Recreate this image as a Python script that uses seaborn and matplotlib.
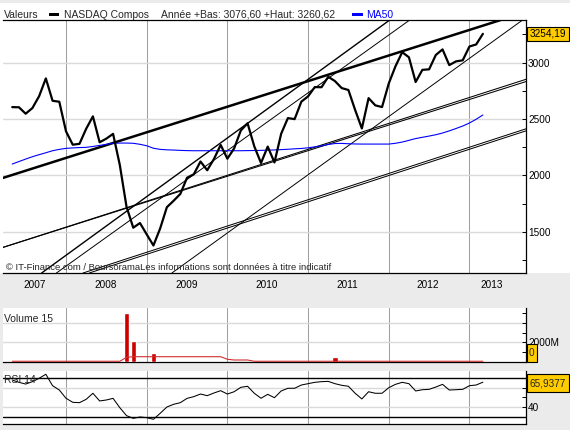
import numpy as np
import pandas as pd
import matplotlib
matplotlib.use("Agg")
import matplotlib.pyplot as plt
from matplotlib.patches import Rectangle
import seaborn as sns

# ---------------- data ----------------
START_MONTH = "2007-05"
END_MONTH = "2013-03"

nasdaq_2007 = [2604.52, 2603.23, 2546.27, 2596.36, 2701.50, 2859.12, 2660.96, 2652.28]
nasdaq_2008 = [2389.86, 2271.48, 2279.10, 2412.80, 2522.66, 2292.98, 2325.55, 2367.52,
               2091.88, 1720.95, 1535.57, 1577.03]
nasdaq_2009 = [1476.42, 1377.84, 1528.59, 1717.30, 1774.33, 1835.04, 1978.50, 2009.06,
               2122.42, 2045.11, 2144.60, 2269.15]
nasdaq_2010 = [2147.35, 2238.26, 2397.96, 2461.19, 2257.04, 2109.24, 2254.70, 2114.03,
               2368.62, 2507.41, 2498.23, 2652.87]
nasdaq_2011 = [2700.08, 2782.27, 2781.07, 2873.54, 2835.30, 2773.52, 2756.38, 2579.46,
               2415.40, 2684.41, 2620.34, 2605.15]
nasdaq_2012 = [2813.84, 2966.89, 3091.57, 3046.36, 2827.34, 2935.05, 2939.52, 3066.96,
               3116.23, 2977.23, 3010.24, 3019.51]
nasdaq_2013 = [3142.13, 3160.19, 3254.19]

ma50 = [2100, 2122, 2144, 2165, 2183, 2200, 2218, 2230,
        2239, 2243, 2246, 2248, 2256, 2265, 2275, 2284, 2286, 2286, 2284, 2275,
        2262, 2240, 2230, 2226, 2224, 2221, 2219, 2218, 2218, 2218, 2218, 2218,
        2218, 2218, 2218, 2219, 2220, 2221, 2223, 2225, 2228, 2231, 2235, 2238,
        2244, 2252, 2262, 2273, 2282, 2283, 2280, 2278, 2277, 2277, 2277, 2277,
        2277, 2284, 2295, 2310, 2326, 2337, 2348, 2360, 2375, 2394, 2415, 2437,
        2464, 2497, 2535]

volume_months = ["2008-10", "2008-11", "2009-02", "2011-05"]
volume_values = [4990, 2134, 897, 485]          # millions

volume_ma15 = [45] * 17 + [450] + [515] * 14 + [250, 175, 175, 175] + [45] * 35

rsi14 = [68.2, 65.8, 64.0, 66.5, 70.0, 74.2, 62.3, 57.8,
         49.2, 45.0, 44.6, 48.1, 54.4, 46.4, 47.4, 49.1, 39.4, 31.1, 28.3, 29.7,
         29.0, 27.3, 33.5, 40.1, 42.9, 44.6, 49.1, 50.9, 53.6, 51.9, 54.7, 57.1,
         53.6, 56.0, 60.6, 61.7, 54.4, 49.2, 53.3, 49.8, 56.8, 59.6, 59.6, 63.0,
         64.4, 65.8, 66.5, 66.8, 64.4, 62.7, 61.7, 54.4, 48.5, 56.0, 54.4, 54.4,
         60.2, 63.7, 65.8, 64.4, 56.8, 58.1, 58.5, 60.9, 63.7, 57.8, 58.1, 58.5,
         62.3, 63.0, 65.9377]

year_labels = ["2007", "2008", "2009", "2010", "2011", "2012", "2013"]
price_ticks = [1500, 2000, 2500, 3000]
price_minor = [1250, 1750, 2250, 2750, 3250]

# drawn trend lines: two points each (decimal year, index value)
trend_t1 = [2007.227, 2007.223, 2007.223, 2009.289, 2009.289, 2007.719, 2007.881, 2009.312]
trend_v1 = [1979, 1362, 1362, 1367, 1385, 1145, 1134, 1134]
trend_t2 = [2012.167, 2013.700, 2013.700, 2013.670, 2013.670, 2012.012, 2012.260, 2013.659]
trend_v2 = [3100, 2831, 2851, 2387, 2405, 3377, 3377, 3377]
trend_lw = [1.8, 0.75, 0.75, 0.72, 0.72, 1.0, 0.7, 0.7]

header_valeurs = "Valeurs"
header_series = "NASDAQ Compos"
header_year = "Année +Bas: 3076,60 +Haut: 3260,62"
header_ma = "MA50"
copyright_txt = "© IT-Finance.com / BoursoramaLes informations sont données à titre indicatif"

# ---------------- helpers ----------------
months = pd.period_range(START_MONTH, END_MONTH, freq="M")
t = np.asarray(months.year + (months.month - 1) / 12.0, dtype=float)
price = np.array(nasdaq_2007 + nasdaq_2008 + nasdaq_2009 + nasdaq_2010 +
                 nasdaq_2011 + nasdaq_2012 + nasdaq_2013)
vm = pd.PeriodIndex(volume_months, freq="M")
t_vol = np.asarray(vm.year + (vm.month - 1) / 12.0, dtype=float)

W, H = 570, 430
def fx(px):
    return px / W
def fy(py):
    return 1 - py / H

sns.set_theme(style="white")
plt.rcParams["font.family"] = ["Liberation Sans", "DejaVu Sans"]
plt.rcParams["axes.unicode_minus"] = False
FS = 7.2
FS_HEAD = 7.5
FS_COPY = 6.8
BG = "#EBEBEB"
VGRID = "#A0A0A0"
HGRID = "#DADADA"
GOLD = "#FFCC00"
XMIN, XMAX = 2007.219, 2013.701
years = [2008, 2009, 2010, 2011, 2012, 2013]

fig = plt.figure(figsize=(W / 100, H / 100), dpi=100, facecolor=BG)
fig.patches.append(Rectangle((0, fy(273)), 1, fy(3) - fy(273), transform=fig.transFigure,
                             fc="white", ec="none", zorder=-10))

def style_panel(a):
    a.set_facecolor("white")
    a.set_xlim(XMIN, XMAX)
    a.yaxis.tick_right()
    a.spines["left"].set_visible(False)
    for s in ["right", "bottom", "top"]:
        a.spines[s].set_color("black")
        a.spines[s].set_linewidth(0.9)
    a.set_xlabel("")
    a.set_ylabel("")
    a.xaxis.grid(True, which="major", color=VGRID, lw=0.75)
    a.yaxis.grid(True, which="major", color=HGRID, lw=1.0)
    a.set_axisbelow(True)
    a.tick_params(axis="y", which="both", direction="in", length=2.6, width=0.7,
                  color="black", pad=1.5, labelsize=FS, labelcolor="black",
                  right=True, left=False, labelright=True, labelleft=False)

# ---------------- main panel ----------------
ax = fig.add_axes([fx(3), fy(273), fx(526) - fx(3), fy(20) - fy(273)])
ax.set_ylim(1134, 3377)
for t1, v1, t2, v2, lw in zip(trend_t1, trend_v1, trend_t2, trend_v2, trend_lw):
    ax.axline((t1, v1), (t2, v2), color="black", lw=lw, zorder=2)
sns.lineplot(x=t, y=np.array(ma50), ax=ax, color="#0000FF", lw=0.8, zorder=3)
sns.lineplot(x=t, y=price, ax=ax, color="black", lw=1.6, zorder=4)
style_panel(ax)
ax.set_xticks(years, labels=[""] * len(years))
label_pos = [2007.616, 2008.489, 2009.493, 2010.484, 2011.486, 2012.486, 2013.274]
ax.set_xticks(label_pos, labels=year_labels, minor=True)
ax.tick_params(axis="x", which="major", direction="out", length=2.5, width=0.7, color="#808080")
ax.tick_params(axis="x", which="minor", length=0, pad=4.8, labelsize=FS, labelcolor="black")
ax.set_yticks(price_ticks, labels=[str(v) for v in price_ticks])
ax.set_yticks(price_minor, minor=True)

last = price[-1]
ytr = ax.get_yaxis_transform()
ax.add_patch(Rectangle((1.0019, last - 62), 0.0803, 124, transform=ytr, fc=GOLD,
                       ec="black", lw=0.8, clip_on=False, zorder=10))
ax.text(1.0420, last, f"{last:.2f}".replace(".", ","), transform=ytr, ha="center",
        va="center", fontsize=FS, color="black", clip_on=False, zorder=11)

# header
fig.text(fx(4), fy(17.7), header_valeurs, fontsize=FS_HEAD, va="baseline", ha="left")
fig.patches.append(Rectangle((fx(49), fy(15.6)), fx(10.3), 3 / H, transform=fig.transFigure,
                             fc="black", ec="none"))
fig.text(fx(64.3), fy(17.7), header_series, fontsize=FS_HEAD, va="baseline", ha="left")
fig.text(fx(161), fy(17.7), header_year, fontsize=FS_HEAD, va="baseline", ha="left")
fig.patches.append(Rectangle((fx(352), fy(15.6)), fx(11), 3 / H, transform=fig.transFigure,
                             fc="#0000FF", ec="none"))
fig.text(fx(366.5), fy(17.7), header_ma, fontsize=FS_HEAD, va="baseline", ha="left",
         color="#0000FF")
fig.text(fx(5.5), fy(269.7), copyright_txt, fontsize=FS_COPY, va="baseline", ha="left",
         zorder=20)

# ---------------- volume panel ----------------
axv = fig.add_axes([fx(3), fy(361.7), fx(526) - fx(3), fy(308) - fy(361.7)])
axv.set_ylim(0, 5536)
axv.bar(t_vol, volume_values, width=0.063, color="#CC0000", zorder=3)
sns.lineplot(x=t, y=np.array(volume_ma15), ax=axv, color="#D03030", lw=0.8, zorder=4)
style_panel(axv)
axv.spines["top"].set_visible(False)
axv.set_xticks(years, labels=[""] * len(years))
axv.tick_params(axis="x", length=0)
axv.set_yticks([2000, 4000], labels=["2000M", ""])
axv.set_yticks([1000, 3000, 5000], minor=True)
vtr = axv.get_yaxis_transform()
axv.add_patch(Rectangle((1.0013, 0), 0.0191, 1794, transform=vtr, fc=GOLD, ec="black",
                        lw=0.8, clip_on=False, zorder=10))
axv.text(1.0108, 897, "0", transform=vtr, ha="center", va="center", fontsize=FS,
         clip_on=False, zorder=11)
fig.text(fx(4), fy(322), "Volume 15", fontsize=FS_HEAD, va="baseline", ha="left")

# ---------------- RSI panel ----------------
axr = fig.add_axes([fx(3), fy(424.3), fx(526) - fx(3), fy(371) - fy(424.3)])
axr.set_ylim(22.08, 77.6)
axr.axhline(70, color="black", lw=1.0, zorder=2)
axr.axhline(30, color="black", lw=1.0, zorder=2)
sns.lineplot(x=t, y=np.array(rsi14), ax=axr, color="black", lw=0.75, zorder=4)
style_panel(axr)
axr.spines["top"].set_visible(False)
axr.set_xticks(years, labels=[""] * len(years))
axr.tick_params(axis="x", length=0)
axr.set_yticks([40, 60], labels=["40", ""])
axr.set_yticks([50], minor=True)
rtr = axr.get_yaxis_transform()
last_rsi = rsi14[-1]
axr.add_patch(Rectangle((1.0013, 56.0), 0.0815, 18.2, transform=rtr, fc=GOLD, ec="black",
                        lw=0.8, clip_on=False, zorder=10))
axr.text(1.0420, 65.1, f"{last_rsi:.4f}".replace(".", ","), transform=rtr, ha="center",
         va="center", fontsize=FS, clip_on=False, zorder=11)
fig.text(fx(4), fy(383.3), "RSI 14", fontsize=FS_HEAD, va="baseline", ha="left")

fig.savefig("out.png", dpi=100, facecolor=BG)
